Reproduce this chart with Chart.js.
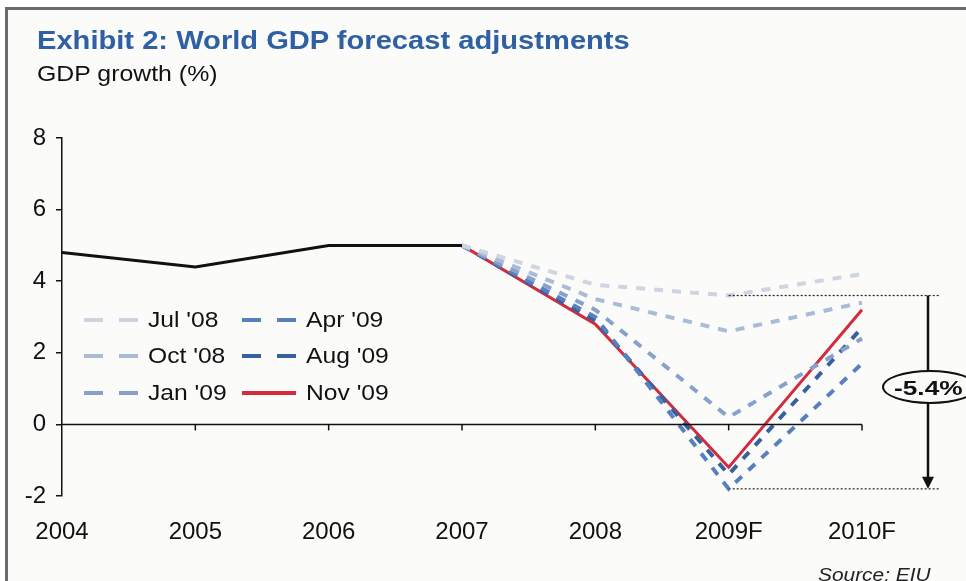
<!DOCTYPE html>
<html><head><meta charset="utf-8">
<script src="https://cdn.jsdelivr.net/npm/chart.js@4.4.1/dist/chart.umd.min.js"></script>
<style>
html,body{margin:0;padding:0;background:#fff;}
#wrap{position:relative;width:966px;height:581px;overflow:hidden;background:#fbfbfa;font-family:"Liberation Sans",Arial,sans-serif;}
#frame{position:absolute;left:5px;top:7px;width:980px;height:600px;border-left:3px solid #6a6a6a;border-top:3px solid #6a6a6a;pointer-events:none;}
#topstrip{position:absolute;left:0;top:0;width:966px;height:7px;background:#fff;}
#leftstrip{position:absolute;left:0;top:0;width:5px;height:581px;background:#fff;}
canvas{position:absolute;left:0;top:0;}
#title{position:absolute;left:37px;top:25px;font-size:26px;font-weight:bold;color:#2f60a4;white-space:nowrap;transform:scaleX(1.12);transform-origin:0 50%;}
#sub{position:absolute;left:37px;top:61px;font-size:22px;color:#111;white-space:nowrap;transform:scaleX(1.13);transform-origin:0 50%;}
#src{position:absolute;left:818px;top:565px;font-size:18px;font-style:italic;color:#222;white-space:nowrap;transform:scaleX(1.16);transform-origin:0 50%;}
.lg{position:absolute;font-size:22px;color:#111;white-space:nowrap;display:flex;align-items:center;}
.lg svg{margin-right:10px;}
.lg span{display:inline-block;transform:scaleX(1.12);transform-origin:0 50%;}
#ell{position:absolute;left:882px;top:370px;width:96px;height:34px;border:2px solid #111;border-radius:50%;background:#fbfbfa;box-sizing:border-box;}
#ell span{position:absolute;left:10px;top:4px;font-size:21px;font-weight:bold;color:#111;transform:scaleX(1.25);transform-origin:0 50%;white-space:nowrap;}
</style></head>
<body><div id="wrap">
<canvas id="c" width="966" height="581"></canvas>
<div id="topstrip"></div><div id="leftstrip"></div>
<div id="frame"></div>
<div id="title">Exhibit 2: World GDP forecast adjustments</div>
<div id="sub">GDP growth (%)</div>
<div id="legend"></div>
<div id="ell"><span>-5.4%</span></div>
<div id="src">Source: EIU</div>
</div>
<script>
const categories = ["2004","2005","2006","2007","2008","2009F","2010F"];
const history  = [4.8, 4.4, 5.0, 5.0, null, null, null];
const jul08    = [null, null, null, 5.0, 3.9, 3.6, 4.2];
const oct08    = [null, null, null, 5.0, 3.5, 2.6, 3.4];
const jan09    = [null, null, null, 5.0, 3.2, 0.2, 2.4];
const apr09    = [null, null, null, 5.0, 3.0, -1.8, 1.7];
const aug09    = [null, null, null, 5.0, 2.9, -1.4, 2.7];
const nov09    = [null, null, null, 5.0, 2.8, -1.2, 3.2];
const yTicks   = [-2, 0, 2, 4, 6, 8];
const rangeTop = 3.6, rangeBottom = -1.8;

const colors = {jul08:"#cdd5e0", oct08:"#a9bbd5", jan09:"#86a2cc", apr09:"#5680bf", aug09:"#39609e", nov09:"#d32a3c", hist:"#111111"};

function dashed(label, data, color){
  return {label, data, borderColor:color, backgroundColor:color, borderWidth:4, borderDash:[9,9], pointRadius:0, tension:0, spanGaps:false};
}
const datasets = [
  {label:"History", data:history, borderColor:colors.hist, borderWidth:3, pointRadius:0, tension:0},
  dashed("Jul '08", jul08, colors.jul08),
  dashed("Oct '08", oct08, colors.oct08),
  dashed("Jan '09", jan09, colors.jan09),
  dashed("Apr '09", apr09, colors.apr09),
  dashed("Aug '09", aug09, colors.aug09),
  {label:"Nov '09", data:nov09, borderColor:colors.nov09, borderWidth:3, pointRadius:0, tension:0}
];

const annot = {
  id:"annot",
  afterDatasetsDraw(chart){
    const {ctx, scales:{x,y}, chartArea} = chart;
    ctx.save();
    const y0 = y.getPixelForValue(0);
    ctx.strokeStyle = "#111"; ctx.lineWidth = 1.5; ctx.setLineDash([]);
    ctx.beginPath(); ctx.moveTo(chartArea.left, y0); ctx.lineTo(chartArea.right, y0); ctx.stroke();
    categories.forEach((c,i)=>{ if(i===0) return; const px = x.getPixelForValue(i);
      ctx.beginPath(); ctx.moveTo(px, y0); ctx.lineTo(px, y0+6); ctx.stroke(); });
    const xs = x.getPixelForValue(5);
    const ax = 928, xe = 940;
    const yt = y.getPixelForValue(rangeTop), yb = y.getPixelForValue(rangeBottom);
    ctx.setLineDash([2,2]); ctx.lineWidth = 1.2; ctx.strokeStyle="#222";
    ctx.beginPath(); ctx.moveTo(xs, yt); ctx.lineTo(xe, yt); ctx.stroke();
    ctx.beginPath(); ctx.moveTo(xs, yb); ctx.lineTo(xe, yb); ctx.stroke();
    ctx.setLineDash([]); ctx.lineWidth = 2.5; ctx.strokeStyle="#111";
    ctx.beginPath(); ctx.moveTo(ax, yt); ctx.lineTo(ax, yb-9); ctx.stroke();
    ctx.fillStyle="#111"; ctx.beginPath(); ctx.moveTo(ax-6, yb-12); ctx.lineTo(ax+6, yb-12); ctx.lineTo(ax, yb); ctx.closePath(); ctx.fill();
    ctx.restore();
  }
};

new Chart(document.getElementById("c"), {
  type:"line",
  data:{labels:categories, datasets},
  options:{
    responsive:false, animation:false, devicePixelRatio:1,
    layout:{padding:{top:138, right:104, bottom:40, left:0}},
    plugins:{legend:{display:false}, tooltip:{enabled:false}, title:{display:false}},
    scales:{
      x:{offset:false, grid:{display:false}, border:{display:false},
         ticks:{color:"#111", font:{family:"Liberation Sans", size:24}, padding:14, maxRotation:0, autoSkip:false},
         afterFit(s){ s.height = 45; }},
      y:{min:-2, max:8, afterBuildTicks(s){ s.ticks = yTicks.map(v=>({value:v})); },
         grid:{drawOnChartArea:false, drawTicks:true, tickLength:6, color:"#111", lineWidth:1.5},
         border:{display:true, color:"#111", width:1.5},
         ticks:{color:"#111", font:{family:"Liberation Sans", size:24}, padding:10},
         afterFit(s){ s.width = 62; }}
    }
  },
  plugins:[annot]
});

const legendItems = [
  {label:"Jul '08", color:colors.jul08, dash:true, x:84, y:320},
  {label:"Oct '08", color:colors.oct08, dash:true, x:84, y:356},
  {label:"Jan '09", color:colors.jan09, dash:true, x:84, y:393},
  {label:"Apr '09", color:colors.apr09, dash:true, x:242, y:320},
  {label:"Aug '09", color:colors.aug09, dash:true, x:242, y:356},
  {label:"Nov '09", color:colors.nov09, dash:false, x:242, y:393}
];
const lg = document.getElementById("legend");
legendItems.forEach(it=>{
  const d = document.createElement("div"); d.className="lg";
  d.style.left = it.x+"px"; d.style.top = (it.y-13)+"px";
  d.innerHTML = `<svg width="54" height="24"><line x1="0" y1="12" x2="54" y2="12" stroke="${it.color}" stroke-width="4" ${it.dash?'stroke-dasharray="19 16"':''}/></svg><span>${it.label}</span>`;
  lg.appendChild(d);
});
</script>
</body></html>
